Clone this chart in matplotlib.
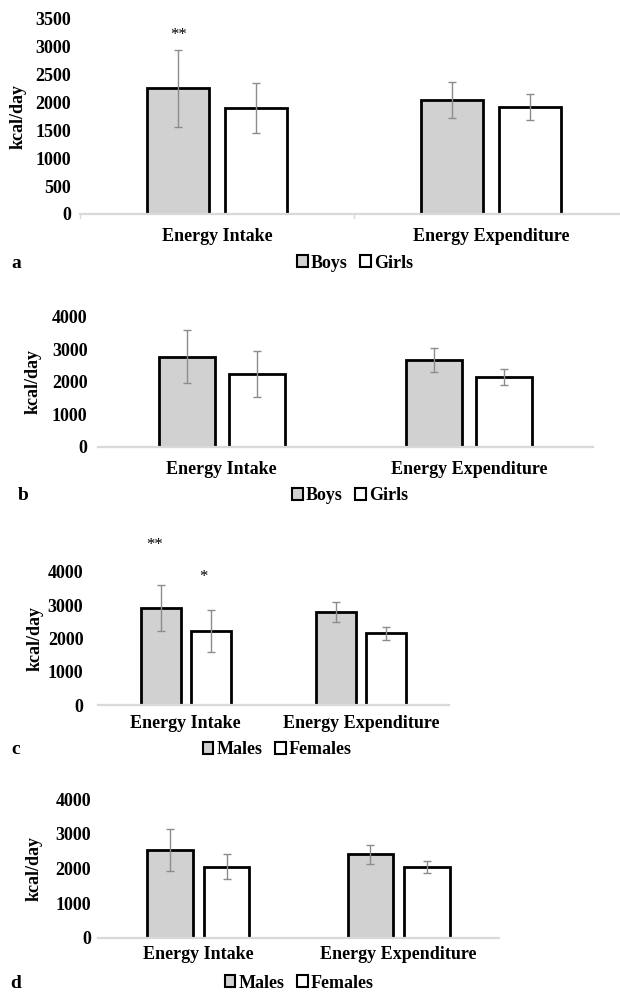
import matplotlib
matplotlib.use("Agg")
import matplotlib.pyplot as plt
from matplotlib.patches import Patch
import numpy as np

plt.rcParams['font.family'] = ['Liberation Serif', 'DejaVu Serif']
plt.rcParams['font.weight'] = 'bold'

categories = ['Energy Intake', 'Energy Expenditure']

# panel a: children, Boys / Girls
a_boys = [2250, 2030]
a_boys_sd = [690, 322]
a_girls = [1895, 1915]
a_girls_sd = [455, 228]

# panel b
b_boys = [2770, 2667]
b_boys_sd = [820, 359]
b_girls = [2237, 2154]
b_girls_sd = [722, 241]

# panel c: Males / Females
c_males = [2920, 2780]
c_males_sd = [685, 300]
c_females = [2220, 2150]
c_females_sd = [620, 200]

# panel d
d_males = [2535, 2410]
d_males_sd = [617, 270]
d_females = [2053, 2035]
d_females_sd = [357, 168]

W, H = 620, 992
fig = plt.figure(figsize=(W / 100, H / 100), dpi=100)

GREY = '#d0d1d0'
AXIS = '#d9d9d9'
ERR = '#8c8c8c'


def px_axes(left, top, right, bottom):
    return fig.add_axes([left / W, 1 - bottom / H, (right - left) / W, (bottom - top) / H])


def panel(box, xmax, first, first_sd, second, second_sd, ymax, ystep,
          tickpad, catpad, label_x, mid_ticks=False):
    ax = px_axes(*box)
    x = np.arange(len(categories))
    w = 0.227
    off = 0.142
    ax.bar(x - off, first, w, color=GREY, edgecolor='black', linewidth=2, zorder=2)
    ax.bar(x + off, second, w, color='white', edgecolor='black', linewidth=2, zorder=2)
    ax.errorbar(x - off, first, yerr=first_sd, fmt='none', ecolor=ERR, elinewidth=1,
                capsize=3, capthick=1, zorder=4)
    ax.errorbar(x + off, second, yerr=second_sd, fmt='none', ecolor=ERR, elinewidth=1,
                capsize=3, capthick=1, zorder=4)
    ax.axhline(0, color=AXIS, linewidth=1.6, zorder=5, clip_on=False)
    ax.set_xlim(-0.5, xmax)
    ax.set_ylim(0, ymax)
    ax.set_yticks(np.arange(0, ymax + 1, ystep))
    ax.set_xticks(x)
    ax.set_xticklabels(categories, fontsize=13, fontweight='bold')
    ax.tick_params(axis='x', length=0, pad=catpad)
    ax.tick_params(axis='y', length=0, pad=tickpad, labelsize=13)
    for s in ax.spines.values():
        s.set_visible(False)
    if mid_ticks:
        for t in [-0.5, 0.5]:
            ax.plot([t, t], [0, -ymax * 0.02], color=AXIS, lw=1, clip_on=False, zorder=5)
    # y label placed by hand, centred on the plot area
    cy = (box[1] + box[3]) / 2
    fig.text(label_x / W, 1 - cy / H, 'kcal/day', rotation=90, ha='center', va='center',
             fontsize=13, fontweight='bold')
    return ax


ax_a = panel((80, 18.3, 620, 214), 1.471, a_boys, a_boys_sd, a_girls, a_girls_sd,
             3500, 500, 6.5, 10, 18, mid_ticks=True)
ax_a.text(-0.142, 3200, '**', ha='center', va='center', fontsize=12, fontweight='normal')

ax_b = panel((98, 316.7, 593, 446.7), 1.5, b_boys, b_boys_sd, b_girls, b_girls_sd,
             4000, 1000, 7.5, 10, 33)

ax_c = panel((98, 571.7, 449, 705), 1.5, c_males, c_males_sd, c_females, c_females_sd,
             4000, 1000, 10.5, 7, 35)
ax_c.text(-0.18, 4800, '**', ha='center', va='center', fontsize=12, fontweight='normal',
          clip_on=False)
ax_c.text(0.1, 3840, '*', ha='center', va='center', fontsize=12, fontweight='normal',
          clip_on=False)

ax_d = panel((98, 799.3, 499, 937.7), 1.5, d_males, d_males_sd, d_females, d_females_sd,
             4000, 1000, 5, 6, 34)


def legend(cx, cy, names):
    handles = [Patch(facecolor=GREY, edgecolor='black', linewidth=1.5),
               Patch(facecolor='white', edgecolor='black', linewidth=1.5)]
    fig.legend(handles, names, loc='center', bbox_to_anchor=(cx / W, 1 - cy / H),
               ncol=2, frameon=False, fontsize=13, handlelength=0.6, handleheight=0.6,
               handletextpad=0.15, columnspacing=0.7, borderaxespad=0, borderpad=0)


legend(355, 263, ['Boys', 'Girls'])
legend(350, 496, ['Boys', 'Girls'])
legend(277, 750, ['Males', 'Females'])
legend(299, 983, ['Males', 'Females'])

for letter, lx, ly in [('a', 16, 263), ('b', 23, 496), ('c', 16, 750), ('d', 16, 983)]:
    fig.text(lx / W, 1 - ly / H, letter, ha='center', va='center', fontsize=14,
             fontweight='bold')

fig.savefig('out.png', dpi=100, facecolor='white')
